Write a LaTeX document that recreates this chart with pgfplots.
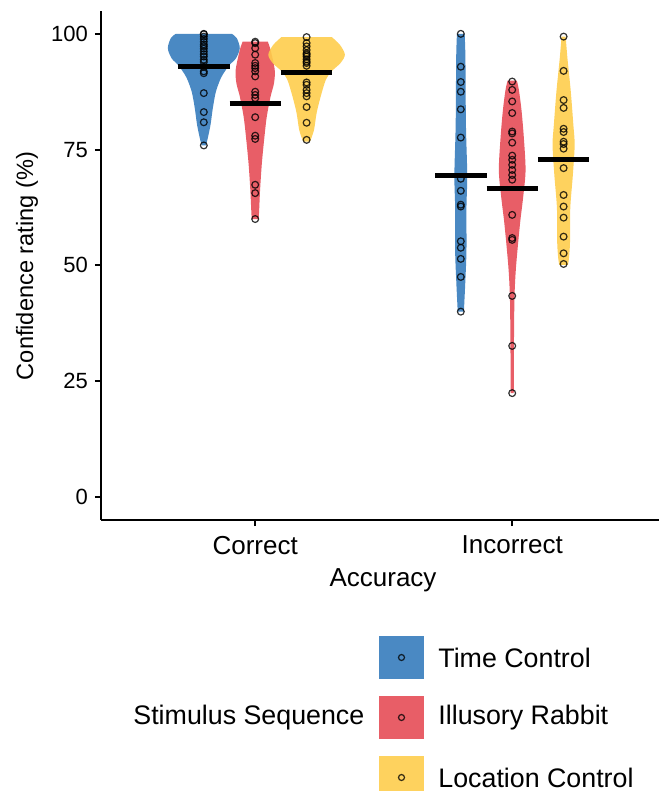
\documentclass[border=0pt]{standalone}
\usepackage{fontspec}
\setmainfont{Liberation Sans}
\usepackage{pgfplots}
\usepackage{pgfplotstable}
\pgfplotsset{compat=1.18}
\usepgfplotslibrary{fillbetween}

\definecolor{tcblue}{HTML}{367CBD}
\definecolor{irred}{HTML}{E54D57}
\definecolor{lcyellow}{HTML}{FECD4C}

% violin outlines: y and half-width w (x units)
\pgfplotstableread{
y w
75.9 0.008
77.1 0.014
80.3 0.026
83.9 0.035
87.5 0.047
90.4 0.066
91.9 0.082
93.3 0.100
94.7 0.125
96.9 0.140
99.1 0.128
100.0 0.109
}\vCT
\pgfplotstableread{
y w
60.0 0.010
60.5 0.014
66.3 0.019
72.1 0.026
77.8 0.036
82.1 0.045
86.5 0.060
89.3 0.073
92.2 0.076
96.5 0.060
98.3 0.049
}\vCR
\pgfplotstableread{
y w
76.7 0.012
77.1 0.016
79.3 0.029
82.9 0.039
86.5 0.055
90.1 0.075
91.9 0.097
93.7 0.132
95.5 0.149
97.6 0.130
99.3 0.098
}\vCL
\pgfplotstableread{
y w
40.0 0.012
45.8 0.017
53.0 0.022
62.4 0.022
69.5 0.025
80.3 0.020
94.7 0.018
100.0 0.015
}\vIT
\pgfplotstableread{
y w
22.4 0.006
34.6 0.007
43.3 0.009
49.0 0.014
54.8 0.023
59.8 0.032
64.9 0.043
70.6 0.052
77.8 0.045
83.6 0.036
87.9 0.026
89.9 0.018
}\vIR
\pgfplotstableread{
y w
50.1 0.017
51.6 0.021
55.1 0.025
62.4 0.026
69.5 0.036
76.0 0.043
80.3 0.038
87.5 0.028
94.7 0.015
99.4 0.008
}\vIL

% individual ratings
\pgfplotstableread{
v
100
99.9
99.4
98.9
98.3
97.7
97.3
96.8
96.2
95.6
95.1
94.4
93.9
92.9
91.9
91.5
87.2
83.1
80.9
75.9
}\pCT
\pgfplotstableread{
v
98.3
98.0
96.9
95.5
93.7
93.1
92.6
91.9
90.8
87.5
86.8
86.1
82.0
78.0
77.3
67.4
65.6
60.0
}\pCR
\pgfplotstableread{
v
99.3
98.0
97.3
96.5
95.8
95.5
95.1
94.5
94.0
93.7
93.1
89.5
89.0
87.9
87.2
86.5
84.2
80.8
77.1
}\pCL
\pgfplotstableread{
v
100
92.9
89.6
87.5
83.7
77.6
68.7
66.1
63.1
62.7
55.2
53.8
51.4
47.5
40.0
}\pIT
\pgfplotstableread{
v
89.7
87.9
85.4
82.9
78.9
78.5
76.5
73.7
72.8
71.7
70.6
69.5
68.5
60.9
55.9
55.5
43.4
32.6
22.4
}\pIR
\pgfplotstableread{
v
99.4
92.0
85.7
84.0
79.5
78.8
76.7
76.2
75.2
71.0
65.2
62.7
60.3
56.2
52.6
50.3
}\pIL

\newcommand{\violin}[4]{%
  \addplot[draw=none, smooth, name path=#4r, forget plot]
    table[x expr={#2+\thisrow{w}}, y=y] {#1};
  \addplot[draw=none, smooth, name path=#4l, forget plot]
    table[x expr={#2-\thisrow{w}}, y=y] {#1};
  \addplot[fill=#3, fill opacity=0.9, draw=none, forget plot]
    fill between[of=#4r and #4l, reverse=true];
}
\newcommand{\ratings}[2]{%
  \addplot[only marks, mark=o, mark size=1.7pt,
    mark options={draw=black, draw opacity=0.8, line width=0.6pt}, forget plot]
    table[x expr={#2}, y=v] {#1};
}

\begin{document}
\begin{tikzpicture}
\begin{axis}[
  at={(0,0)}, anchor=south west,
  scale only axis, width=282.7pt, height=254.65pt,
  xmin=0.4, xmax=2.6, ymin=-5, ymax=105,
  axis x line*=bottom, axis y line*=left,
  axis line style={line width=1pt, black, -},
  xtick={1,2}, xticklabels={Correct,Incorrect},
  ytick={0,25,50,75,100},
  tick align=outside, major tick length=3pt,
  tick style={line width=1pt, black},
  x tick label style={font=\fontsize{13}{15}\selectfont, yshift=-1.5pt},
  y tick label style={font=\fontsize{11}{13}\selectfont},
  /pgf/number format/assume math mode=true,
]
\violin{\vCT}{0.8}{tcblue}{ct}
\violin{\vCR}{1.0}{irred}{cr}
\violin{\vCL}{1.2}{lcyellow}{cl}
\violin{\vIT}{1.8}{tcblue}{it}
\violin{\vIR}{2.0}{irred}{ir}
\violin{\vIL}{2.2}{lcyellow}{il}

\ratings{\pCT}{0.8}
\ratings{\pCR}{1.0}
\ratings{\pCL}{1.2}
\ratings{\pIT}{1.8}
\ratings{\pIR}{2.0}
\ratings{\pIL}{2.2}

% means
\addplot[black, line width=2.5pt, forget plot] coordinates {(0.7,92.9) (0.9,92.9)};
\addplot[black, line width=2.5pt, forget plot] coordinates {(0.9,84.9) (1.1,84.9)};
\addplot[black, line width=2.5pt, forget plot] coordinates {(1.1,91.7) (1.3,91.7)};
\addplot[black, line width=2.5pt, forget plot] coordinates {(1.7,69.4) (1.9,69.4)};
\addplot[black, line width=2.5pt, forget plot] coordinates {(1.9,66.7) (2.1,66.7)};
\addplot[black, line width=2.5pt, forget plot] coordinates {(2.1,72.9) (2.3,72.9)};
\end{axis}

\node[font=\fontsize{13}{15}\selectfont] at (141pt,-30pt) {Accuracy};
\node[rotate=90, font=\fontsize{11.8}{14}\selectfont] at (-37pt,127pt) {Confidence rating (\%)};

% legend
\begin{scope}[font=\fontsize{13.4}{15}\selectfont]
\fill[tcblue, fill opacity=0.9] (139pt,-58pt) rectangle (161.5pt,-79.5pt);
\fill[irred, fill opacity=0.9] (139pt,-88pt) rectangle (161.5pt,-109.5pt);
\fill[lcyellow, fill opacity=0.9] (139pt,-118pt) rectangle (161.5pt,-139.5pt);
\draw[black, draw opacity=0.8, line width=0.6pt] (150.25pt,-68.75pt) circle (1.5pt);
\draw[black, draw opacity=0.8, line width=0.6pt] (150.25pt,-98.75pt) circle (1.5pt);
\draw[black, draw opacity=0.8, line width=0.6pt] (150.25pt,-128.75pt) circle (1.5pt);
\node[anchor=west, inner sep=0pt] at (168.5pt,-68.75pt) {Time Control};
\node[anchor=west, inner sep=0pt] at (168.5pt,-98.75pt) {Illusory Rabbit};
\node[anchor=west, inner sep=0pt] at (168.5pt,-128.75pt) {Location Control};
\node[anchor=west, inner sep=0pt] at (16pt,-98.75pt) {Stimulus Sequence};
\end{scope}

\pgfresetboundingbox
\path[use as bounding box] (-50.5pt,-135.5pt) rectangle (278.5pt,260pt);
\end{tikzpicture}
\end{document}
